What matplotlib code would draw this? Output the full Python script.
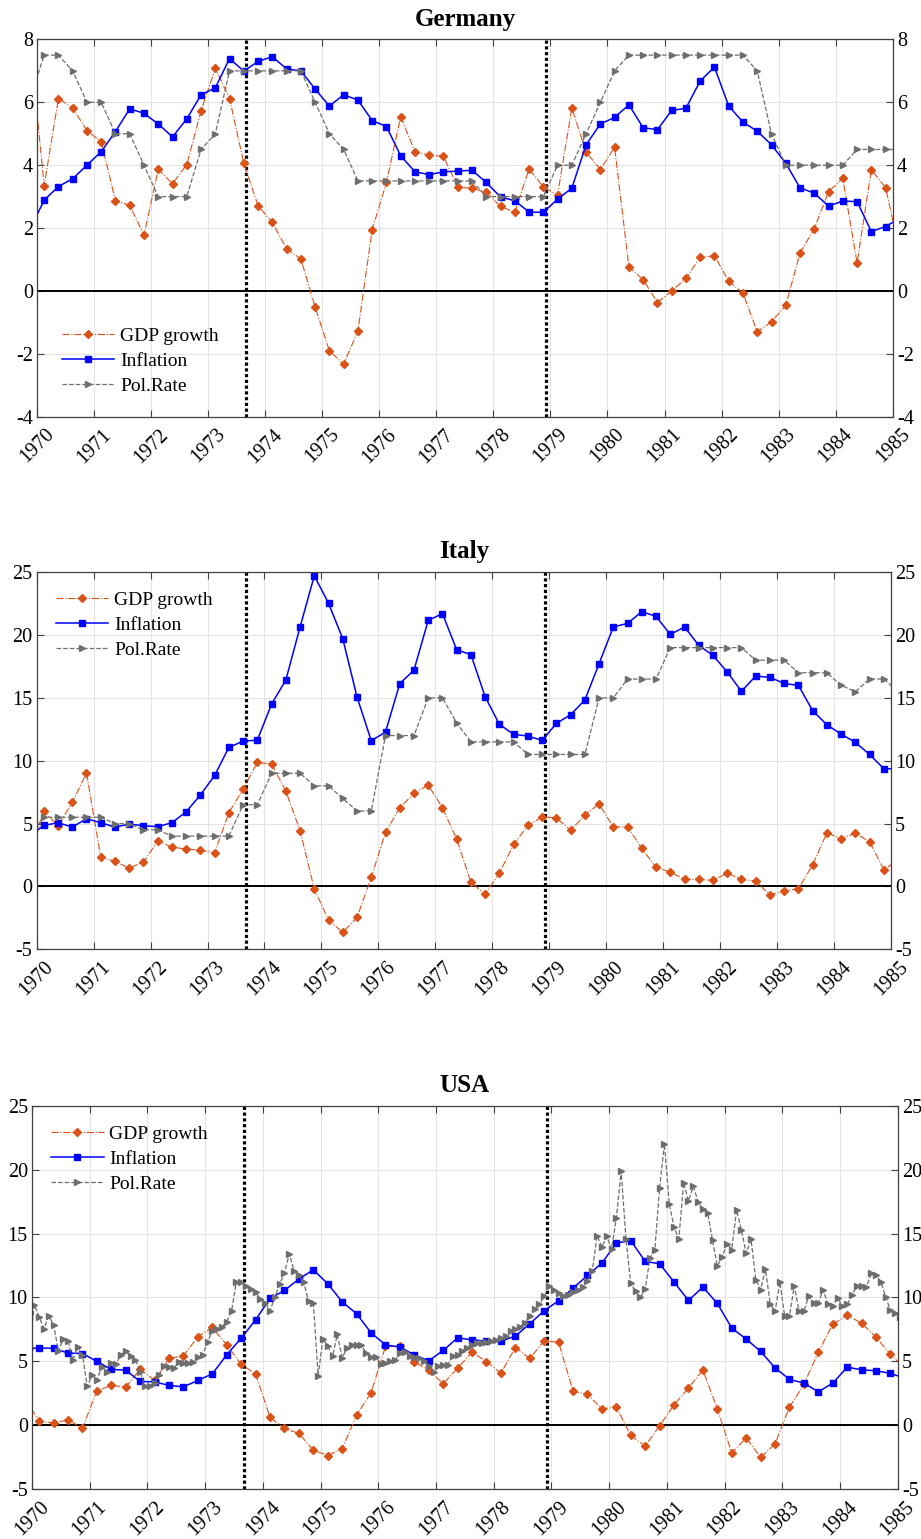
import numpy as np
import matplotlib
matplotlib.use('Agg')
import matplotlib.pyplot as plt

# Quarterly series, mid-quarter dates from 1969Q4 to 1985Q1 (first/last only feed the clipped edges)
gdp_de = [7.95, 3.35, 6.12, 5.82, 5.10, 4.75, 2.87, 2.72, 1.77, 3.87, 3.41, 4.02, 5.72, 7.08,
          6.12, 4.06, 2.71, 2.18, 1.34, 1.02, -0.51, -1.90, -2.33, -1.27, 1.95, 3.45, 5.54, 4.43,
          4.32, 4.28, 3.31, 3.26, 3.14, 2.69, 2.50, 3.88, 3.31, 3.05, 5.82, 4.42, 3.86, 4.57,
          0.76, 0.36, -0.37, 0.00, 0.40, 1.07, 1.12, 0.31, -0.07, -1.30, -0.98, -0.46, 1.21,
          1.98, 3.16, 3.58, 0.89, 3.85, 3.29, 1.23]
infl_de = [1.95, 2.89, 3.32, 3.57, 4.00, 4.43, 5.07, 5.79, 5.65, 5.31, 4.90, 5.47, 6.24, 6.46,
           7.39, 6.99, 7.30, 7.45, 7.06, 7.00, 6.42, 5.88, 6.24, 6.07, 5.42, 5.23, 4.30, 3.79,
           3.70, 3.79, 3.81, 3.84, 3.45, 2.99, 2.87, 2.51, 2.50, 2.92, 3.27, 4.65, 5.31, 5.52,
           5.92, 5.19, 5.13, 5.74, 5.81, 6.68, 7.12, 5.88, 5.37, 5.08, 4.65, 4.06, 3.28, 3.11,
           2.70, 2.86, 2.84, 1.89, 2.05, 2.31]
rate_de = [6.1, 7.5, 7.5, 7.0, 6.0, 6.0, 5.0, 5.0, 4.0, 3.0, 3.0, 3.0, 4.5, 5.0,
           7.0, 7.0, 7.0, 7.0, 7.0, 7.0, 6.0, 5.0, 4.5, 3.5, 3.5, 3.5, 3.5, 3.5,
           3.5, 3.5, 3.5, 3.5, 3.0, 3.0, 3.0, 3.0, 3.0, 4.0, 4.0, 5.0, 6.0, 7.0,
           7.5, 7.5, 7.5, 7.5, 7.5, 7.5, 7.5, 7.5, 7.5, 7.0, 5.0, 4.0, 4.0, 4.0,
           4.0, 4.0, 4.5, 4.5, 4.5, 4.5]

gdp_it = [2.23, 5.97, 4.83, 6.68, 9.02, 2.31, 1.99, 1.46, 1.94, 3.61, 3.13, 2.97, 2.89, 2.68,
          5.86, 7.75, 9.87, 9.73, 7.59, 4.43, -0.21, -2.68, -3.66, -2.47, 0.72, 4.30, 6.26, 7.40,
          8.06, 6.26, 3.77, 0.32, -0.61, 1.06, 3.34, 4.85, 5.52, 5.46, 4.46, 5.68, 6.55, 4.72,
          4.75, 3.02, 1.51, 1.14, 0.56, 0.56, 0.48, 1.06, 0.56, 0.42, -0.69, -0.34, -0.19, 1.72,
          4.27, 3.79, 4.24, 3.55, 1.33, 2.10]
infl_it = [4.01, 4.85, 5.07, 4.72, 5.38, 5.07, 4.72, 4.96, 4.83, 4.75, 5.07, 5.94, 7.27, 8.83,
           11.06, 11.56, 11.64, 14.51, 16.42, 20.64, 24.72, 22.52, 19.71, 15.07, 11.59, 12.28,
           16.13, 17.21, 21.17, 21.70, 18.83, 18.44, 15.09, 12.89, 12.10, 11.96, 11.62, 12.97,
           13.66, 14.83, 17.72, 20.64, 20.93, 21.86, 21.49, 20.05, 20.64, 19.18, 18.38, 17.06,
           15.52, 16.74, 16.63, 16.15, 15.99, 13.98, 12.86, 12.12, 11.46, 10.50, 9.36, 9.36]
rate_it = [4.1, 5.5, 5.5, 5.5, 5.5, 5.5, 5.0, 5.0, 4.5, 4.5, 4.0, 4.0, 4.0, 4.0,
           4.0, 6.5, 6.5, 9.0, 9.0, 9.0, 8.0, 8.0, 7.0, 6.0, 6.0, 12.0, 12.0, 12.0,
           15.0, 15.0, 13.0, 11.5, 11.5, 11.5, 11.5, 10.5, 10.5, 10.5, 10.5, 10.5, 15.0, 15.0,
           16.5, 16.5, 16.5, 19.0, 19.0, 19.0, 19.0, 19.0, 19.0, 18.0, 18.0, 18.0, 17.0, 17.0,
           17.0, 16.0, 15.5, 16.5, 16.5, 15.5]

gdp_us = [2.06, 0.34, 0.16, 0.42, -0.23, 2.69, 3.11, 2.98, 4.39, 3.50, 5.22, 5.43, 6.92, 7.65,
          6.29, 4.75, 4.02, 0.60, -0.26, -0.65, -1.96, -2.38, -1.85, 0.78, 2.53, 6.16, 6.16, 4.96,
          4.31, 3.24, 4.46, 5.72, 4.96, 4.07, 6.08, 5.22, 6.61, 6.50, 2.66, 2.40, 1.28, 1.41,
          -0.81, -1.64, -0.05, 1.59, 2.92, 4.31, 1.28, -2.19, -0.99, -2.53, -1.46, 1.41, 3.19,
          5.72, 7.91, 8.59, 7.99, 6.87, 5.54, 4.44]
infl_us = [6.03, 6.03, 6.03, 5.64, 5.61, 4.99, 4.36, 4.31, 3.42, 3.39, 3.11, 3.00, 3.50, 4.02,
           5.51, 6.81, 8.25, 9.92, 10.55, 11.44, 12.17, 11.07, 9.66, 8.72, 7.23, 6.29, 6.11, 5.51,
           5.04, 5.85, 6.84, 6.68, 6.58, 6.58, 6.97, 7.94, 8.96, 9.74, 10.73, 11.72, 12.69, 14.26,
           14.46, 12.82, 12.64, 11.20, 9.77, 10.81, 9.53, 7.60, 6.74, 5.77, 4.49, 3.58, 3.29,
           2.61, 3.29, 4.54, 4.33, 4.26, 4.05, 3.67]

# US policy rate is monthly, Dec 1969 to Jan 1985
rate_us = [6.0,
           9.43, 8.50, 7.55, 8.56, 7.86, 5.80, 6.76, 6.58, 5.08, 6.13, 5.50, 3.03,
           3.95, 3.55, 4.53, 4.20, 4.87, 4.82, 5.53, 5.80, 5.40, 5.13, 4.20, 3.03,
           3.10, 3.29, 3.95, 4.60, 4.53, 4.47, 4.95, 4.87, 4.87, 4.92, 5.34, 5.50,
           6.50, 7.40, 7.55, 7.70, 8.10, 8.95, 11.24, 11.24, 10.90, 10.66, 10.40, 9.87,
           9.60, 8.95, 10.00, 11.05, 11.90, 13.42, 12.10, 11.76, 11.18, 9.74, 9.60, 3.87,
           6.76, 6.18, 5.40, 7.10, 5.26, 6.05, 6.24, 6.24, 6.24, 5.66, 5.34, 5.34,
           4.79, 4.87, 5.00, 5.08, 5.66, 5.71, 5.45, 5.32, 5.26, 5.05, 4.66, 4.20,
           4.66, 4.74, 4.74, 5.40, 5.50, 5.84, 6.05, 6.30, 6.45, 6.45, 6.50, 6.58,
           6.66, 6.84, 7.00, 7.37, 7.50, 7.70, 8.03, 8.55, 9.08, 9.47, 10.08, 10.88,
           10.60, 10.34, 10.08, 10.20, 10.45, 10.60, 10.80, 11.30, 12.10, 14.85, 13.95, 14.80,
           13.80, 16.20, 19.90, 14.60, 11.10, 10.50, 10.00, 10.65, 13.10, 13.70, 18.60, 22.05,
           17.35, 15.50, 14.60, 19.00, 17.56, 18.70, 17.50, 16.90, 16.60, 14.50, 12.45, 13.20,
           14.20, 13.75, 16.85, 15.30, 13.45, 14.55, 11.40, 10.60, 12.20, 9.50, 8.90, 11.20,
           8.55, 8.55, 10.90, 8.93, 8.93, 10.10, 9.55, 9.58, 10.60, 9.45, 9.35, 9.98,
           9.35, 9.45, 10.20, 10.88, 10.86, 10.83, 11.88, 11.75, 11.22, 10.05, 8.98, 8.80,
           8.50]

years = list(range(1970, 1986))
events = [1973.67, 1978.92]

GDP_C = '#D95319'
INF_C = '#0000FF'
RATE_C = '#6E6E6E'

plt.rcParams['font.family'] = ['Liberation Serif', 'DejaVu Serif']
plt.rcParams['axes.unicode_minus'] = False


def quarter_x(vals):
    return 1969.875 + 0.25 * np.arange(len(vals))


def month_x(vals):
    return 1969.0 + (11 + np.arange(len(vals)) + 0.5) / 12.0


def panel(ax, title, gdp, infl, rate, rate_x, ylim, ystep, leg_kw):
    ax.plot(quarter_x(gdp), gdp, color=GDP_C, ls='-.', lw=0.8, marker='D', ms=3.8,
            mfc=GDP_C, mec=GDP_C, label='GDP growth')
    ax.plot(quarter_x(infl), infl, color=INF_C, ls='-', lw=1.1, marker='s', ms=4.2,
            mfc=INF_C, mec=INF_C, label='Inflation')
    ax.plot(rate_x, rate, color=RATE_C, ls='--', lw=0.9, marker='>', ms=4.0,
            mfc=RATE_C, mec=RATE_C, label='Pol.Rate')
    ax.axhline(0, color='black', lw=1.4, zorder=1.5)
    for ev in events:
        ax.axvline(ev, color='black', ls=(0, (1, 0.8)), lw=2.3, zorder=1.6)

    ax.set_xlim(1970, 1985)
    ax.set_ylim(*ylim)
    ax.set_xticks(years)
    ax.set_xticklabels([str(y) for y in years], rotation=45, ha='center')
    ax.set_yticks(np.arange(ylim[0], ylim[1] + 0.1, ystep))
    ax.grid(True, color='#e3e3e3', lw=0.8)
    ax.set_axisbelow(True)
    ax.tick_params(direction='in', top=True, right=True, labelright=True,
                   length=5, width=0.8, color='#404040', labelsize=14.5, pad=3)
    ax.tick_params(axis='x', pad=6)
    for sp in ax.spines.values():
        sp.set_color('#404040')
        sp.set_linewidth(0.9)
    ax.set_title(title, fontsize=18, fontweight='bold', pad=10)
    ax.legend(frameon=False, fontsize=14, handlelength=2.7, handletextpad=0.3,
              labelspacing=0.38, borderpad=0, borderaxespad=0, **leg_kw)


fig = plt.figure(figsize=(9.21, 15.39), dpi=100)
ax_de = fig.add_axes([0.0402, 0.7292, 0.9291, 0.2452])
ax_it = fig.add_axes([0.0398, 0.3832, 0.9276, 0.2450])
ax_us = fig.add_axes([0.0347, 0.0325, 0.9400, 0.2489])

panel(ax_de, 'Germany', gdp_de, infl_de, rate_de, quarter_x(rate_de), (-4, 8), 2,
      dict(loc='lower left', bbox_to_anchor=(0.029, 0.057)))
panel(ax_it, 'Italy', gdp_it, infl_it, rate_it, quarter_x(rate_it), (-5, 25), 5,
      dict(loc='upper left', bbox_to_anchor=(0.0226, 0.95)))
panel(ax_us, 'USA', gdp_us, infl_us, rate_us, month_x(rate_us), (-5, 25), 5,
      dict(loc='upper left', bbox_to_anchor=(0.022, 0.95)))

fig.savefig('out.png', dpi=100)
